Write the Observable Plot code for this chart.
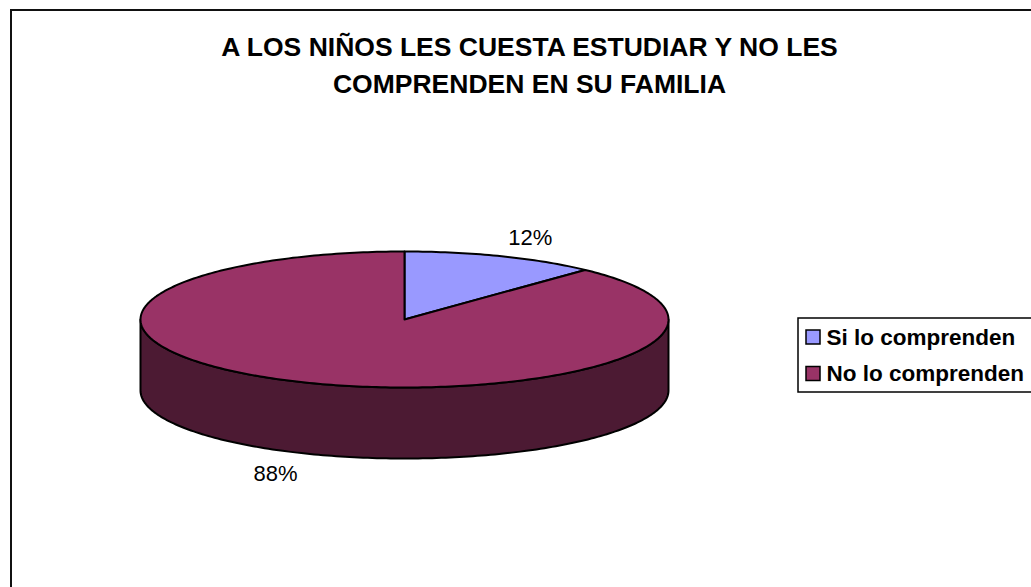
<!DOCTYPE html>
<html>
<head>
<meta charset="utf-8">
<script src="https://cdn.jsdelivr.net/npm/d3@7"></script>
<script src="https://cdn.jsdelivr.net/npm/@observablehq/plot@0.6"></script>
<style>
  html, body { margin: 0; padding: 0; background: #fff; overflow: hidden; }
  #wrap { position: relative; width: 1031px; height: 587px; overflow: hidden; }
  #border { position: absolute; left: 10px; top: 9px; width: 1100px; height: 700px;
            border-left: 2px solid #111; border-top: 2px solid #111; pointer-events: none; }
  #chart { position: absolute; left: 0; top: 0; }
</style>
</head>
<body>
<div id="wrap"><div id="chart"></div><div id="border"></div></div>
<script>
// ---- data ----
const categories = ["Si lo comprenden", "No lo comprenden"];
const values = [12, 88];
const sliceColors = ["#9999FF", "#993366"];
const sideColors = ["#4D4D80", "#4C1A33"];
const titleLines = ["A LOS NIÑOS LES CUESTA ESTUDIAR Y NO LES", "COMPRENDEN EN SU FAMILIA"];
const percentLabels = values.map(v => v + "%");

// ---- layout ----
const W = 1031, H = 587;
const cx = 404, cy = 319, rx = 264, ry = 68, depth = 71;
const font = "'Liberation Sans', Arial, Helvetica, sans-serif";

const total = d3.sum(values);
let acc = 0;
const slices = values.map((v, i) => {
  const a0 = acc / total * 360; acc += v;
  const a1 = acc / total * 360;
  return {i, a0, a1, mid: (a0 + a1) / 2};
});
const pt = (deg, dy = 0) => {
  const r = deg * Math.PI / 180;
  return {x: cx + rx * Math.sin(r), y: cy - ry * Math.cos(r) + dy};
};
const arc = (a0, a1, dy = 0) => {
  const n = Math.max(2, Math.ceil(Math.abs(a1 - a0)));
  return d3.range(n + 1).map(k => pt(a0 + (a1 - a0) * k / n, dy));
};
const topFaces = slices.map(s => {
  const c = {x: cx, y: cy};
  return {i: s.i, pts: [c, ...arc(s.a0, s.a1), c]};
});
const sideFaces = slices.map(s => {
  const s0 = Math.max(s.a0, 90), s1 = Math.min(s.a1, 270);
  if (s1 <= s0) return null;
  const top = arc(s0, s1, 0), bot = arc(s1, s0, depth);
  return {i: s.i, pts: [...top, ...bot, top[0]]};
}).filter(Boolean);

const labelData = slices.map(s => {
  const r = s.mid * Math.PI / 180;
  const sx = Math.sin(r), cyv = Math.cos(r);
  const edge = pt(s.mid, cyv < 0 ? depth : 0);
  const dx = rx * sx, dyv = -ry * cyv, len = Math.hypot(dx, dyv);
  const off = cyv < 0 ? 38 : 34;
  return {label: percentLabels[s.i], x: edge.x + off * dx / len, y: edge.y + off * dyv / len};
});

const legendData = categories.map((c, i) => ({c, i}));
const legY = i => 337 + i * 36.5;

const marks = [];
sideFaces.forEach(f => marks.push(Plot.line(f.pts, {x: "x", y: "y", fill: sideColors[f.i], stroke: "#000", strokeWidth: 2, strokeLinejoin: "round"})));
topFaces.forEach(f => marks.push(Plot.line(f.pts, {x: "x", y: "y", fill: sliceColors[f.i], stroke: "#000", strokeWidth: 2, strokeLinejoin: "round"})));
marks.push(Plot.text(labelData, {x: "x", y: "y", text: "label", fontSize: 22, fontFamily: font, fill: "#000"}));
marks.push(Plot.text(titleLines, {x: () => 529, y: (d, i) => 47 + i * 37, text: d => d, fontSize: 26.5, fontWeight: "bold", fontFamily: font, fill: "#000"}));
marks.push(Plot.rect([0], {x1: () => 798, x2: () => 1045, y1: () => 318, y2: () => 392, fill: "#fff", stroke: "#000", strokeWidth: 1.5}));
marks.push(Plot.rect(legendData, {x1: () => 806, x2: () => 820, y1: d => legY(d.i) - 7, y2: d => legY(d.i) + 7, fill: d => sliceColors[d.i], stroke: "#000", strokeWidth: 1.5}));
marks.push(Plot.text(legendData, {x: () => 826, y: d => legY(d.i), text: "c", textAnchor: "start", fontSize: 22.5, fontWeight: "bold", fontFamily: font, fill: "#000"}));

const svg = Plot.plot({
  width: W, height: H, margin: 0,
  x: {domain: [0, W], range: [0, W], axis: null},
  y: {domain: [0, H], range: [0, H], axis: null},
  style: {background: "#fff", overflow: "hidden", fontFamily: font},
  marks
});
document.getElementById("chart").appendChild(svg);
</script>
</body>
</html>
